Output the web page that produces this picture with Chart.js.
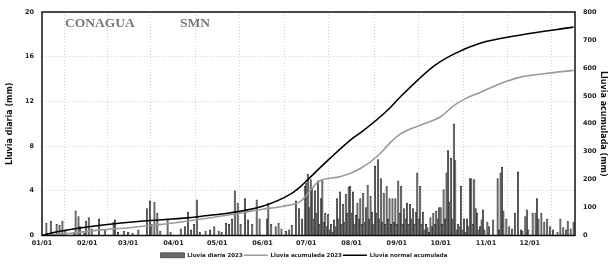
<!DOCTYPE html>
<html>
<head>
<meta charset="utf-8">
<script src="https://cdn.jsdelivr.net/npm/chart.js@4/dist/chart.umd.min.js"></script>
<style>
  html, body { margin: 0; padding: 0; background: #fff; }
  #wrap { width: 608px; height: 264px; }
</style>
</head>
<body>
<div id="wrap"><canvas id="myChart" width="608" height="264"></canvas></div>
<script>
// daily rain 2023 (mm), one array per month
const ene = [0,0,0,1.1,0.2,0,1.3,0.3,0,0,1.0,0,0.9,0,1.3,0,0.5,0,0,0,0,0,0.3,2.2,0,1.7,0.8,0,0,0.2,1.3];
const feb = [0,1.6,0,0.6,0,0,0,0,1.5,0,0,0,0.5,0,0,0,0,0,1.2,1.4,0,0.3,0,0,0,0.4,0,0];
const mar = [0.3,0,0,0.2,0,0,0,0.5,0,0,0,0,0,2.4,0,3.1,1.0,0,3.0,0,2.0,0,0.4,0,0,0,0,1.5,0,0.3,0];
const abr = [0,0,0,0,0,0.6,0,0,0.8,0,2.1,0,0.5,0,1.0,0,3.2,0,0.3,0,0,0,0.4,0,0,0.5,0,0,0.8,0];
const may = [0,0.4,0,0.3,0,0,1.1,0,1.0,0,1.5,0,4.0,0,2.9,0,1.0,0,0,3.3,0,1.4,0,0,1.0,0,0,3.2,0,1.5,0];
const jun = [0,0,0,1.5,2.9,0,1.0,0,0,0.8,0,1.1,0,0.6,0,0,0.4,0,0.5,0,0.9,0,0,3.1,0,2.4,0,1.5,0,4.4];
const jul = [4.7,5.5,2.5,5.0,4.2,1.5,4.0,2.0,4.9,1.0,3.3,5.0,1.2,2.0,0.8,1.9,0.5,1.0,0.3,1.4,0.8,3.3,1.5,3.9,1.0,2.8,1.2,3.7,2.0,4.3,4.4];
const ago = [2.0,3.9,1.0,1.8,2.9,1.5,3.3,1.0,3.8,1.2,2.5,4.5,1.5,3.5,2.1,1.0,6.2,2.0,6.8,1.5,5.1,1.2,3.8,1.0,4.4,1.5,3.3,1.0,3.3,1.2,3.3];
const sep = [1.0,4.9,2.0,4.4,1.0,2.4,1.5,2.9,1.0,2.8,1.5,2.4,1.0,2.1,5.6,1.5,4.4,1.0,2.1,0.5,1.0,0.7,0.3,1.6,0.8,2.0,1.0,2.2,1.5,2.5];
const oct = [2.5,1.0,4.1,1.5,5.6,7.6,3.0,6.9,1.5,10.0,6.7,0.5,1.0,0.8,4.4,0.5,1.5,0.3,1.5,0.8,5.1,5.1,1.0,5.0,2.4,2.0,0.5,0.8,1.4,2.3,0.5];
const nov = [0,1.2,0.8,0,0,1.4,0,0,5.1,0.5,5.6,6.1,2.2,0,1.5,0,0.8,0,0.6,0,2.0,0,5.7,0,0.5,0.4,0,1.7,2.3,0.5];
const dic = [0,0,2.0,0,2.0,3.3,1.5,0,2.0,0,1.2,0,1.5,0,0.8,0,0.5,0,0,0.3,0,1.5,0,0.7,0,0.5,1.3,0,0.6,0,1.2];

// accumulated 2023 (mm), read at some days of the year
const diasAcum2023 = [0,20,40,60,74,90,108,130,151,165,177,182,190,204,218,231,238,245,259,273,282,290,300,314,327,345,364];
const acum2023 = [0,8,20,28,36,45,58,75,94,105,122,150,195,210,240,290,330,362,395,425,465,490,512,544,566,580,591];

// normal accumulated (mm)
const diasNormal = [0,12,51,108,151,171,177,182,197,212,220,237,245,269,283,300,327,364];
const normalAcum = [0,15,43,68,105,151,175,200,275,345,375,450,494,609,652,688,717,746];

// x axis ticks: first day of each month
const inicioMes = [0,31,59,90,120,151,181,212,243,273,304,334];
const etiquetasMes = ["01/01","02/01","03/01","04/01","05/01","06/01","07/01","08/01","09/01","10/01","11/01","12/01"];

const diaria = [ene,feb,mar,abr,may,jun,jul,ago,sep,oct,nov,dic].flat();

const tickFont = { family: "DejaVu Sans", size: 6.5, weight: "bold" };
const titleFont = { family: "DejaVu Sans", size: 8, weight: "bold" };

// frame around the plot + logos text
const marco = {
  id: "marco",
  afterDatasetsDraw(chart) {
    const { ctx, chartArea: a } = chart;
    ctx.save();
    ctx.strokeStyle = "#111";
    ctx.lineWidth = 1.5;
    ctx.strokeRect(a.left, a.top, a.right - a.left, a.bottom - a.top);
    ctx.fillStyle = "#777";
    ctx.font = "bold 13.5px 'Liberation Serif'";
    ctx.textBaseline = "middle";
    ctx.fillText("CONAGUA", 65, 24);
    ctx.fillText("SMN", 180, 24);
    ctx.restore();
  }
};

const ctx = document.getElementById("myChart").getContext("2d");

new Chart(ctx, {
  type: "bar",
  data: {
    datasets: [
      {
        type: "line",
        label: "Lluvia normal acumulada",
        data: diasNormal.map((d, i) => ({ x: d, y: normalAcum[i] })),
        yAxisID: "y1",
        borderColor: "#000",
        borderWidth: 1.6,
        pointRadius: 0,
        pointStyle: "line",
        cubicInterpolationMode: "monotone",
        order: 0
      },
      {
        type: "line",
        label: "Lluvia acumulada 2023",
        data: diasAcum2023.map((d, i) => ({ x: d, y: acum2023[i] })),
        yAxisID: "y1",
        borderColor: "#9a9a9a",
        borderWidth: 1.6,
        pointRadius: 0,
        pointStyle: "line",
        cubicInterpolationMode: "monotone",
        order: 1
      },
      {
        label: "Lluvia diaria 2023",
        data: diaria.map((v, i) => ({ x: i, y: v })),
        yAxisID: "y",
        backgroundColor: "#686868",
        borderColor: "#222",
        borderWidth: 0.6,
        barPercentage: 1,
        categoryPercentage: 1,
        pointStyle: "rect",
        order: 2
      }
    ]
  },
  options: {
    responsive: false,
    animation: false,
    layout: { padding: { top: 12, left: 0, right: 0, bottom: -4 } },
    plugins: {
      tooltip: { enabled: false },
      legend: {
        position: "bottom",
        reverse: true,
        labels: {
          usePointStyle: true,
          pointStyleWidth: 24,
          boxHeight: 5,
          padding: 1,
          color: "#222",
          font: { family: "DejaVu Sans", size: 5.5, weight: "bold" }
        }
      }
    },
    scales: {
      x: {
        type: "linear",
        min: 0,
        max: 365,
        offset: false,
        afterBuildTicks: (s) => { s.ticks = inicioMes.map((v) => ({ value: v })); },
        afterFit: (s) => { s.height = 16; },
        ticks: {
          autoSkip: false,
          maxRotation: 0,
          padding: 4,
          color: "#222",
          font: tickFont,
          callback: (v) => etiquetasMes[inicioMes.indexOf(v)]
        },
        grid: { color: "#c8c8c8", lineWidth: 0.8, drawTicks: false },
        border: { display: false, dash: [1, 2] }
      },
      y: {
        position: "left",
        min: 0,
        max: 20,
        afterFit: (s) => { s.width = 42; },
        ticks: { stepSize: 4, padding: 8, color: "#222", font: tickFont },
        grid: { color: "#c8c8c8", lineWidth: 0.8, drawTicks: false },
        border: { display: false, dash: [1, 2] },
        title: { display: true, text: "Lluvia diaria (mm)", color: "#111", font: titleFont, padding: { top: 5, bottom: 0 } }
      },
      y1: {
        position: "right",
        min: 0,
        max: 800,
        afterFit: (s) => { s.width = 33; },
        ticks: { stepSize: 100, padding: 8, color: "#222", font: tickFont },
        grid: { drawOnChartArea: false, drawTicks: false },
        border: { display: false },
        title: { display: true, text: "Lluvia acumulada (mm)", color: "#111", font: titleFont, padding: { top: 0, bottom: 0 } }
      }
    }
  },
  plugins: [marco]
});
</script>
</body>
</html>
